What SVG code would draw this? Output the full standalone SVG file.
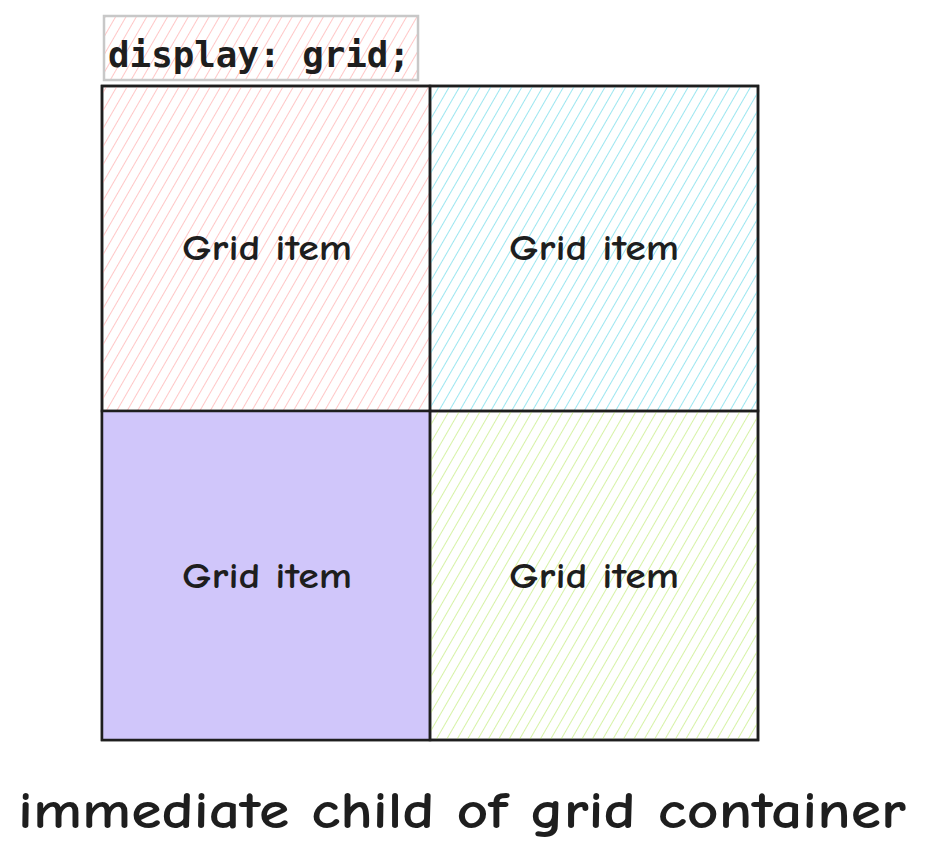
<svg xmlns="http://www.w3.org/2000/svg" width="926" height="866" viewBox="0 0 926 866">
<defs>
<pattern id="hPink" width="9" height="9" patternUnits="userSpaceOnUse" patternTransform="rotate(30)"><line x1="0" y1="0" x2="0" y2="9" stroke="#ffa8a8" stroke-width="1.3"/></pattern>
<pattern id="hCyan" width="9" height="9" patternUnits="userSpaceOnUse" patternTransform="rotate(30)"><line x1="0" y1="0" x2="0" y2="9" stroke="#66d9e8" stroke-width="1.3"/></pattern>
<pattern id="hGreen" width="9" height="9" patternUnits="userSpaceOnUse" patternTransform="rotate(30)"><line x1="0" y1="0" x2="0" y2="9" stroke="#c0eb75" stroke-width="1.3"/></pattern>
</defs>
<style>
.cell{stroke:#1e1e1e;stroke-width:2.5}
.lbl{font-family:"Comic Neue","Liberation Sans",sans-serif;font-size:36px;font-weight:bold;fill:#1e1e1e;text-anchor:middle}
</style>
<rect width="926" height="866" fill="#ffffff"/>
<g id="label">
<rect x="104" y="16" width="314" height="64" fill="url(#hPink)" stroke="#c8c8c8" stroke-width="2.5"/>
<text x="108" y="67" font-family="DejaVu Sans Mono, monospace" font-size="35" font-weight="bold" fill="#1e1e1e" textLength="302" lengthAdjust="spacingAndGlyphs">display: grid;</text>
</g>
<g id="container">
<rect x="102" y="86" width="656" height="654" fill="none" stroke="#1e1e1e" stroke-width="2.5"/>
</g>
<g id="cell1">
<rect class="cell" x="102" y="86" width="328" height="325" fill="url(#hPink)"/>
<text class="lbl" x="267" y="260" textLength="170" lengthAdjust="spacingAndGlyphs">Grid item</text>
</g>
<g id="cell2">
<rect class="cell" x="430" y="86" width="328" height="325" fill="url(#hCyan)"/>
<text class="lbl" x="594" y="260" textLength="170" lengthAdjust="spacingAndGlyphs">Grid item</text>
</g>
<g id="cell3">
<rect class="cell" x="102" y="411" width="328" height="329" fill="#d0c6fa"/>
<text class="lbl" x="267" y="588" textLength="170" lengthAdjust="spacingAndGlyphs">Grid item</text>
</g>
<g id="cell4">
<rect class="cell" x="430" y="411" width="328" height="329" fill="url(#hGreen)"/>
<text class="lbl" x="594" y="588" textLength="170" lengthAdjust="spacingAndGlyphs">Grid item</text>
</g>
<g id="connectors"/>
<g id="caption">
<text x="462" y="828" font-family="Comic Neue, Liberation Sans, sans-serif" font-size="52" font-weight="bold" fill="#1e1e1e" text-anchor="middle" textLength="888" lengthAdjust="spacingAndGlyphs">immediate child of grid container</text>
</g>
</svg>
